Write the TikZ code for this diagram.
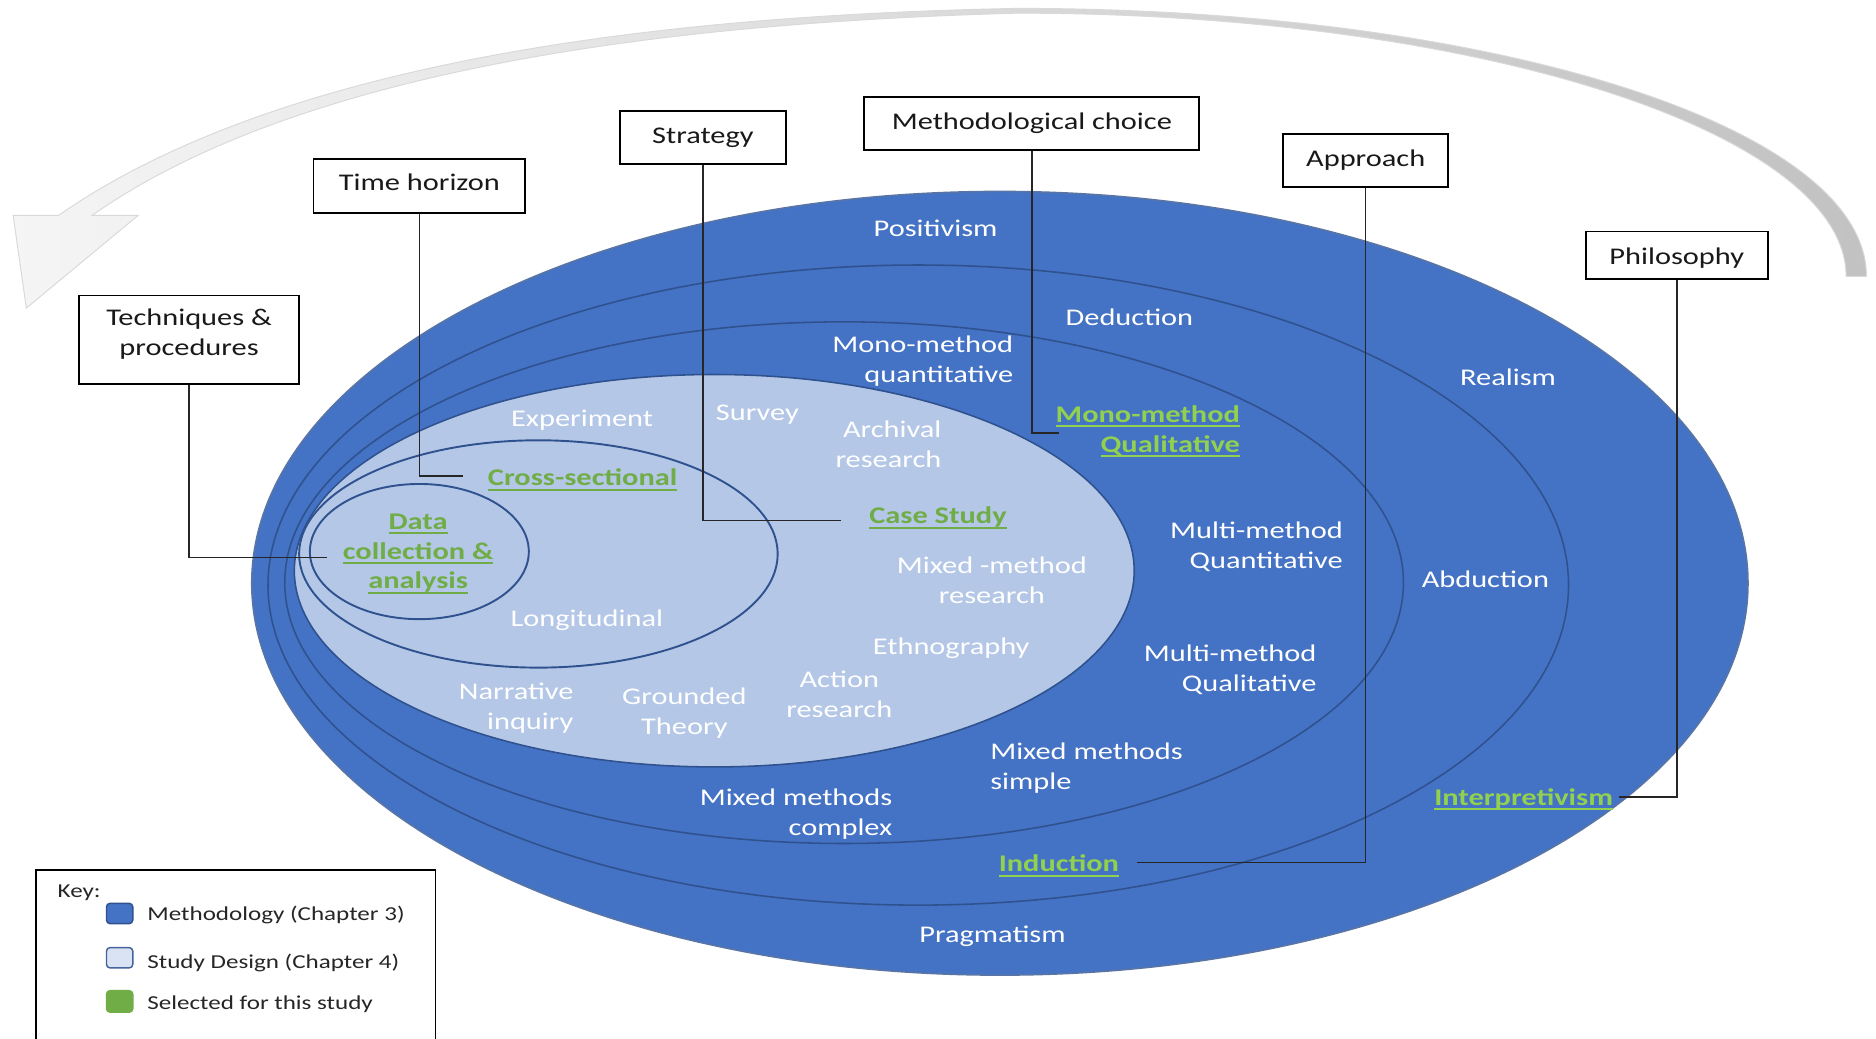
\documentclass[tikz,border=0pt]{standalone}
\usepackage{fontspec}
\setmainfont{Carlito}[FakeStretch=1.27]
\newsavebox{\gulbox}
\newcommand{\gul}[1]{\leavevmode\sbox{\gulbox}{#1}\rlap{\rule[-4.4pt]{\wd\gulbox}{1.7pt}}\usebox{\gulbox}}
\definecolor{mblue}{HTML}{4472C4}
\definecolor{lblue}{HTML}{B4C7E7}
\definecolor{navy}{HTML}{2F528F}
\definecolor{gA}{HTML}{70AD47}
\definecolor{gB}{HTML}{92D050}
\definecolor{keylight}{HTML}{DAE3F3}
\tikzset{
  ring/.style={draw=navy, line width=1.3pt},
  lab/.style={text=white, inner sep=0pt, align=center, yshift=-2.5pt, font=\fontsize{20}{25}\selectfont},
  selA/.style={lab, text=gA, yshift=-0.5pt, font=\fontsize{20}{25}\selectfont\bfseries},
  selB/.style={lab, text=gB, yshift=-0.5pt, font=\fontsize{20}{25}\selectfont\bfseries},
  box/.style={draw=black, line width=1.6pt, fill=white, inner sep=0pt, align=center,
    text=black!90, font=\fontsize{20}{25}\selectfont},
  conn/.style={draw=black!85, line width=1.2pt},
  keytext/.style={anchor=west, inner sep=0pt, text=black!85, yshift=-1.5pt, font=\fontsize{16.5}{20}\selectfont},
  swatch/.style={rounded corners=3pt, line width=1.2pt}
}
\begin{document}
\begin{tikzpicture}[x=1pt, y=-1pt]
\path[use as bounding box] (0,0) rectangle (1568,868);
\fill[white] (0,0) rectangle (1568,868);

% curved return arrow
\path[draw=black!15, line width=0.8pt, left color=black!4, right color=black!24]
  (1560,231) .. controls (1560,105) and (1245,7) .. (850,7)
  .. controls (600,12) and (250,40) .. (49,180)
  -- (11,180) -- (22,257.5) -- (115.5,180) -- (77,180)
  .. controls (265,48) and (600,18) .. (850,11)
  .. controls (1238,11) and (1543,112) .. (1543,231) -- cycle;

% onion rings
\path[ring, fill=mblue, draw=navy!80] (835.7,487.5) ellipse [x radius=625.3pt, y radius=327.5pt];
\path[ring] (767.5,489) ellipse [x radius=543.5pt, y radius=267.5pt];
\path[ring] (705.5,487) ellipse [x radius=467.5pt, y radius=218pt];
\path[ring, fill=lblue] (597,477) ellipse [x radius=351pt, y radius=164pt];
\path[ring, line width=1.6pt] (450,463) ellipse [x radius=200pt, y radius=95pt];
\path[ring, line width=1.6pt] (350.5,461) ellipse [x radius=91.5pt, y radius=56.5pt];

% labels
\node[lab] (positivism) at (782,188) {Positivism};
\node[lab] (deduction) at (944,262.5) {Deduction};
\node[lab] (realism) at (1260.5,313) {Realism};
\node[lab, anchor=east, align=right] (monoquant) at (847,299) {Mono-method\\quantitative};
\node[selB, anchor=east, align=right] (monoqual) at (1036.5,357.5) {\gul{Mono-method}\\\gul{Qualitative}};
\node[lab] (experiment) at (486.5,348.5) {Experiment};
\node[lab] (survey) at (633,344) {Survey};
\node[lab, anchor=east, align=right] (archival) at (787,369) {Archival\\research};
\node[selA] (cross) at (487,398) {\gul{Cross-sectional}};
\node[selA] (case) at (784,430) {\gul{Case Study}};
\node[selA] (data) at (349.5,460) {\gul{Data}\\\gul{collection \&}\\\gul{analysis}};
\node[lab] (longit) at (490.5,515.5) {Longitudinal};
\node[lab] (mixedm) at (829,482.5) {Mixed -method\\research};
\node[lab, anchor=east, align=right] (mmquant) at (1122.5,454.5) {Multi-method\\Quantitative};
\node[lab] (abduction) at (1241.5,482) {Abduction};
\node[lab] (ethno) at (795,539.5) {Ethnography};
\node[lab, anchor=east, align=right] (mmqual) at (1100.5,557.5) {Multi-method\\Qualitative};
\node[lab, anchor=east, align=right] (narrative) at (479.5,589) {Narrative\\inquiry};
\node[lab] (grounded) at (572,593.5) {Grounded\\Theory};
\node[lab] (action) at (701.5,578) {Action\\research};
\node[lab, anchor=west, align=left] (mms) at (827.5,639.5) {Mixed methods\\simple};
\node[lab, anchor=east, align=right] (mmc) at (746,678) {Mixed methods\\complex};
\node[selB] (induction) at (885,720.5) {\gul{Induction}};
\node[lab] (pragmatism) at (829.5,780) {Pragmatism};
\node[selB] (interp) at (1273.5,665) {\gul{Interpretivism}};

% layer boxes
\node[box, minimum width=184pt, minimum height=74pt, text depth=13pt] (tech) at (158,284) {Techniques \&\\procedures};
\node[box, minimum width=177pt, minimum height=45pt, text depth=6pt] (timeh) at (350.5,155.5) {Time horizon};
\node[box, minimum width=139pt, minimum height=44pt] (strat) at (587.5,115) {Strategy};
\node[box, minimum width=280pt, minimum height=44pt] (meth) at (862.5,103) {Methodological choice};
\node[box, minimum width=138pt, minimum height=44pt] (appr) at (1141.5,134) {Approach};
\node[box, minimum width=152pt, minimum height=40pt, text height=18pt] (phil) at (1401.5,213.5) {Philosophy};

% connector ends
\coordinate (techEnd) at (273,466);
\coordinate (timeEnd) at (387,398);
\coordinate (stratEnd) at (703,435);
\coordinate (methEnd) at (885,362);
\coordinate (apprEnd) at (950,721);
\coordinate (philEnd) at (1353,666);

\draw[conn] (tech.south) |- (techEnd);
\draw[conn] (timeh.south) |- (timeEnd);
\draw[conn] (strat.south) |- (stratEnd);
\draw[conn] (meth.south) |- (methEnd);
\draw[conn] (appr.south) |- (apprEnd);
\draw[conn] (phil.south) |- (philEnd);

% key
\draw[line width=1.6pt] (30,727) rectangle (364,900);
\node[keytext] (keyhead) at (48,745) {Key:};
\draw[swatch, fill=mblue, draw=navy] (89,755) rectangle (111,772);
\node[keytext] (k1) at (123,763.5) {Methodology (Chapter 3)};
\draw[swatch, fill=keylight, draw=navy!90] (89,792) rectangle (111,809);
\node[keytext] (k2) at (123,803.5) {Study Design (Chapter 4)};
\draw[swatch, fill=gA, draw=gA] (89,828) rectangle (111,846);
\node[keytext] (k3) at (123,837.5) {Selected for this study};
\end{tikzpicture}
\end{document}
